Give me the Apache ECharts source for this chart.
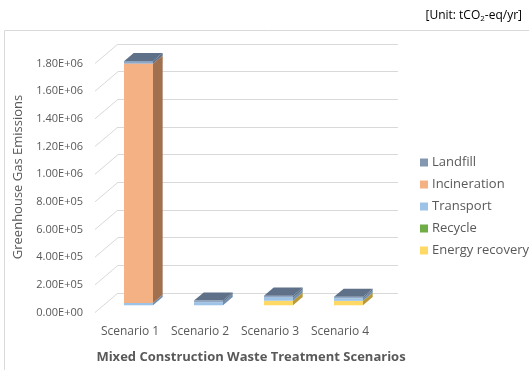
<!DOCTYPE html>
<html>
<head>
<meta charset="utf-8">
<script src="https://cdn.jsdelivr.net/npm/echarts@6/dist/echarts.min.js"></script>
<style>
html, body { margin: 0; padding: 0; background: #fff; }
#main { width: 529px; height: 370px; }
</style>
</head>
<body>
<div id="main"></div>
<script>
// chart values (stack order bottom -> top)
var scenarios = ['Scenario 1', 'Scenario 2', 'Scenario 3', 'Scenario 4'];
var energyRecovery = [0, 0, 33000, 32000];
var recycle = [0, 0, 0, 0];
var transport = [17000, 22000, 22000, 18000];
var incineration = [1730000, 0, 0, 0];
var landfill = [18000, 12000, 14000, 11000];
var yTicks = [0, 200000, 400000, 600000, 800000, 1000000, 1200000, 1400000, 1600000, 1800000];

var FONT = 'Open Sans';
var DX = 23, DY = 19.5;      // floor depth offset (back -> front)
var F_FRONT = 0.63, F_BACK = 0.21;

var layers = [
    { name: 'Energy recovery', values: energyRecovery, front: '#FFD966', side: '#B89A3C', top: '#E8C656' },
    { name: 'Recycle', values: recycle, front: '#70AD47', side: '#4E7A32', top: '#5F9A3C' },
    { name: 'Transport', values: transport, front: '#9DC3E6', side: '#6F8DAD', top: '#86A9CC' },
    { name: 'Incineration', values: incineration, front: '#F4B183', side: '#A0704F', top: '#D39770' },
    { name: 'Landfill', values: landfill, front: '#8FA8C8', side: '#5E6F86', top: '#5F7089' }
];

function sciLabel(v) {
    var parts = v.toExponential(2).toUpperCase().split('E');
    var e = parseInt(parts[1], 10);
    var s = e < 0 ? '-' : '+';
    var d = Math.abs(e);
    return parts[0] + 'E' + s + (d < 10 ? '0' + d : d);
}

// build stacked [cat, base, top, isTop] per layer
var tops = scenarios.map(function (s, i) {
    var t = -1;
    layers.forEach(function (l, k) { if (l.values[i] > 0) t = k; });
    return t;
});
var cum = scenarios.map(function () { return 0; });
var layerData = layers.map(function (l, k) {
    return scenarios.map(function (s, i) {
        var b = cum[i];
        cum[i] += l.values[i];
        return [i, b, cum[i], tops[i] === k ? 1 : 0];
    });
});

function barRender(layer) {
    return function (params, api) {
        var i = api.value(0), b = api.value(1), t = api.value(2), isTop = api.value(3);
        if (t <= b) return null;
        var c0 = api.coord([i, b]);
        var c1 = api.coord([i, t]);
        var hw = api.size([1, 0])[0] * 0.207;
        function pt(x, y, f) { return [x - DX * f, y + DY * f]; }
        var fl = c0[0] - hw, fr = c0[0] + hw;
        var FLt = pt(fl, c1[1], F_FRONT), FRt = pt(fr, c1[1], F_FRONT);
        var FRb = pt(fr, c0[1], F_FRONT), FLb = pt(fl, c0[1], F_FRONT);
        var BRt = pt(fr, c1[1], F_BACK), BRb = pt(fr, c0[1], F_BACK), BLt = pt(fl, c1[1], F_BACK);
        var kids = [
            { type: 'polygon', shape: { points: [FLt, FRt, FRb, FLb] }, style: { fill: layer.front } },
            { type: 'polygon', shape: { points: [FRt, BRt, BRb, FRb] }, style: { fill: layer.side } }
        ];
        if (isTop) {
            kids.push({ type: 'polygon', shape: { points: [FLt, FRt, BRt, BLt] }, style: { fill: layer.top } });
        }
        return { type: 'group', children: kids };
    };
}

var series = [{
    name: 'wall',
    type: 'custom',
    xAxisIndex: 0,
    yAxisIndex: 0,
    silent: true,
    data: yTicks.map(function (v) { return [0, v]; }),
    encode: { x: 0, y: 1 },
    renderItem: function (params, api) {
        var c = api.coord([0, api.value(1)]);
        var x = params.coordSys.x;
        return {
            type: 'line',
            shape: { x1: x, y1: c[1], x2: x - DX, y2: c[1] + DY },
            style: { stroke: '#D9D9D9', lineWidth: 1 }
        };
    }
}];

layers.forEach(function (l, k) {
    series.push({
        name: l.name,
        type: 'custom',
        xAxisIndex: 0,
        yAxisIndex: 0,
        itemStyle: { color: k === 4 ? '#8497B0' : l.front },
        data: layerData[k],
        encode: { x: 0, y: 2 },
        renderItem: barRender(l)
    });
});

var myChart = echarts.init(document.getElementById('main'));
var option = {
    animation: false,
    backgroundColor: '#fff',
    textStyle: { fontFamily: FONT },
    grid: [
        { left: 118, top: 44, width: 280, height: 249 },
        { left: 95, top: 63.5, width: 280, height: 249 }
    ],
    xAxis: [
        { gridIndex: 0, type: 'category', data: scenarios, show: false },
        {
            gridIndex: 1, type: 'category', data: scenarios,
            axisLine: { show: false }, axisTick: { show: false },
            axisLabel: { interval: 0, color: '#595959', fontSize: 12, margin: 13, fontFamily: FONT }
        }
    ],
    yAxis: [
        {
            gridIndex: 0, type: 'value', min: 0, max: 1800000, interval: 200000,
            axisLine: { show: false }, axisTick: { show: false }, axisLabel: { show: false },
            splitLine: { lineStyle: { color: '#D9D9D9' } }
        },
        {
            gridIndex: 1, type: 'value', min: 0, max: 1800000, interval: 200000,
            axisLine: { show: false }, axisTick: { show: false }, splitLine: { show: false },
            axisLabel: { color: '#595959', fontSize: 11, margin: 12, fontFamily: FONT, formatter: sciLabel }
        }
    ],
    legend: {
        orient: 'vertical',
        left: 415,
        top: 151,
        itemWidth: 8,
        itemHeight: 8,
        itemGap: 9,
        icon: 'rect',
        data: ['Landfill', 'Incineration', 'Transport', 'Recycle', 'Energy recovery'],
        textStyle: { color: '#595959', fontSize: 13, fontFamily: FONT, padding: [0, 0, 0, -1] }
    },
    graphic: [
        {
            type: 'polyline', silent: true,
            shape: { points: [[4.5, 380], [4.5, 30.5], [540, 30.5]] },
            style: { stroke: '#D9D9D9', fill: null, lineWidth: 1 }
        },
        {
            type: 'text', x: 522, y: 16,
            style: {
                text: '{a|[Unit: tCO}{s|2}{a|-eq/yr]}',
                align: 'right', verticalAlign: 'middle',
                rich: {
                    a: { fontSize: 12, fontFamily: FONT, fill: '#000' },
                    s: { fontSize: 8, fontFamily: FONT, fill: '#000', padding: [6, 0, 0, 0] }
                }
            }
        },
        {
            type: 'text', x: 18, y: 177, rotation: Math.PI / 2,
            style: {
                text: 'Greenhouse Gas Emissions', align: 'center', verticalAlign: 'middle',
                fontSize: 13, fontFamily: FONT, fill: '#595959'
            }
        },
        {
            type: 'text', x: 251, y: 357,
            style: {
                text: 'Mixed Construction Waste Treatment Scenarios', align: 'center', verticalAlign: 'middle',
                fontSize: 13, fontWeight: 'bold', fontFamily: FONT, fill: '#595959'
            }
        }
    ],
    series: series
};
myChart.setOption(option);
</script>
</body>
</html>
